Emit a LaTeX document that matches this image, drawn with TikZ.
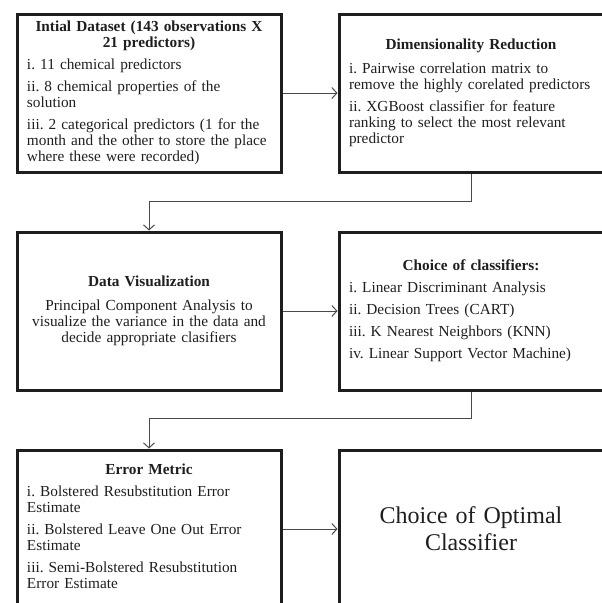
\documentclass[tikz,border=0pt]{standalone}
\usepackage{fontspec}
\setmainfont{Liberation Serif}
\usetikzlibrary{arrows.meta}
\definecolor{ink}{HTML}{1E1E1E}
\definecolor{wire}{HTML}{4A4A4A}
\frenchspacing
\begin{document}
\begin{tikzpicture}[x=1pt,y=-1pt,
  box/.style={draw=ink, line width=3pt, minimum width=264pt, minimum height=158pt,
    text width=244pt, inner xsep=10pt, align=left, text=ink,
    font=\fontsize{15.3}{16}\selectfont\frenchspacing,
    execute at begin node={\setlength{\parskip}{6pt}}},
  rbox/.style={box, minimum width=262pt},
  link/.style={draw=wire, line width=1pt, -{Straight Barb[length=5pt,width=11pt]}}]
\useasboundingbox (0,0) rectangle (602,603);
\clip (0,0) rectangle (602,603);

\node[box] (b1) at (149,93) {{\centering\textbf{Intial Dataset (143 observations X\\21 predictors)}\par}
i. 11 chemical predictors\par
ii. 8 chemical properties of the\\solution\par
iii. 2 categorical predictors (1 for the\\month and the other to store the place\\where these were recorded)};

\node[rbox] (b2) at (471,93) {{\centering\textbf{Dimensionality Reduction}\par}\vspace{2pt}
i. Pairwise correlation matrix to\\remove the highly corelated predictors\par
ii. XGBoost classifier for feature\\ranking to select the most relevant\\predictor};

\node[box] (b3) at (149,311) {{\centering\textbf{Data Visualization}\par\vspace{2pt}
Principal Component Analysis to\\visualize the variance in the data and\\decide appropriate clasifiers\par}};

\node[rbox] (b4) at (471,311) {{\centering\textbf{Choice of classifiers:}\par}
i. Linear Discriminant Analysis\par
ii. Decision Trees (CART)\par
iii. K Nearest Neighbors (KNN)\par
iv. Linear Support Vector Machine)};

\node[box] (b5) at (149,529) {{\centering\textbf{Error Metric}\par}
i. Bolstered Resubstitution Error\\Estimate\par
ii. Bolstered Leave One Out Error\\Estimate\par
iii. Semi-Bolstered Resubstitution\\Error Estimate\par\vspace{6pt}};

\node[rbox, font=\fontsize{24}{27}\selectfont] (b6) at (471,529) {{\centering Choice of Optimal\\Classifier\par}};

\coordinate (j1) at (149,201);
\coordinate (j2) at (149,418);
\draw[link] (b1.east) -- (b2.west);
\draw[link] (b2.south) |- (j1) -- (b3.north);
\draw[link] (b3.east) -- (b4.west);
\draw[link] (b4.south) |- (j2) -- (b5.north);
\draw[link] (b5.east) -- (b6.west);
\end{tikzpicture}
\end{document}
